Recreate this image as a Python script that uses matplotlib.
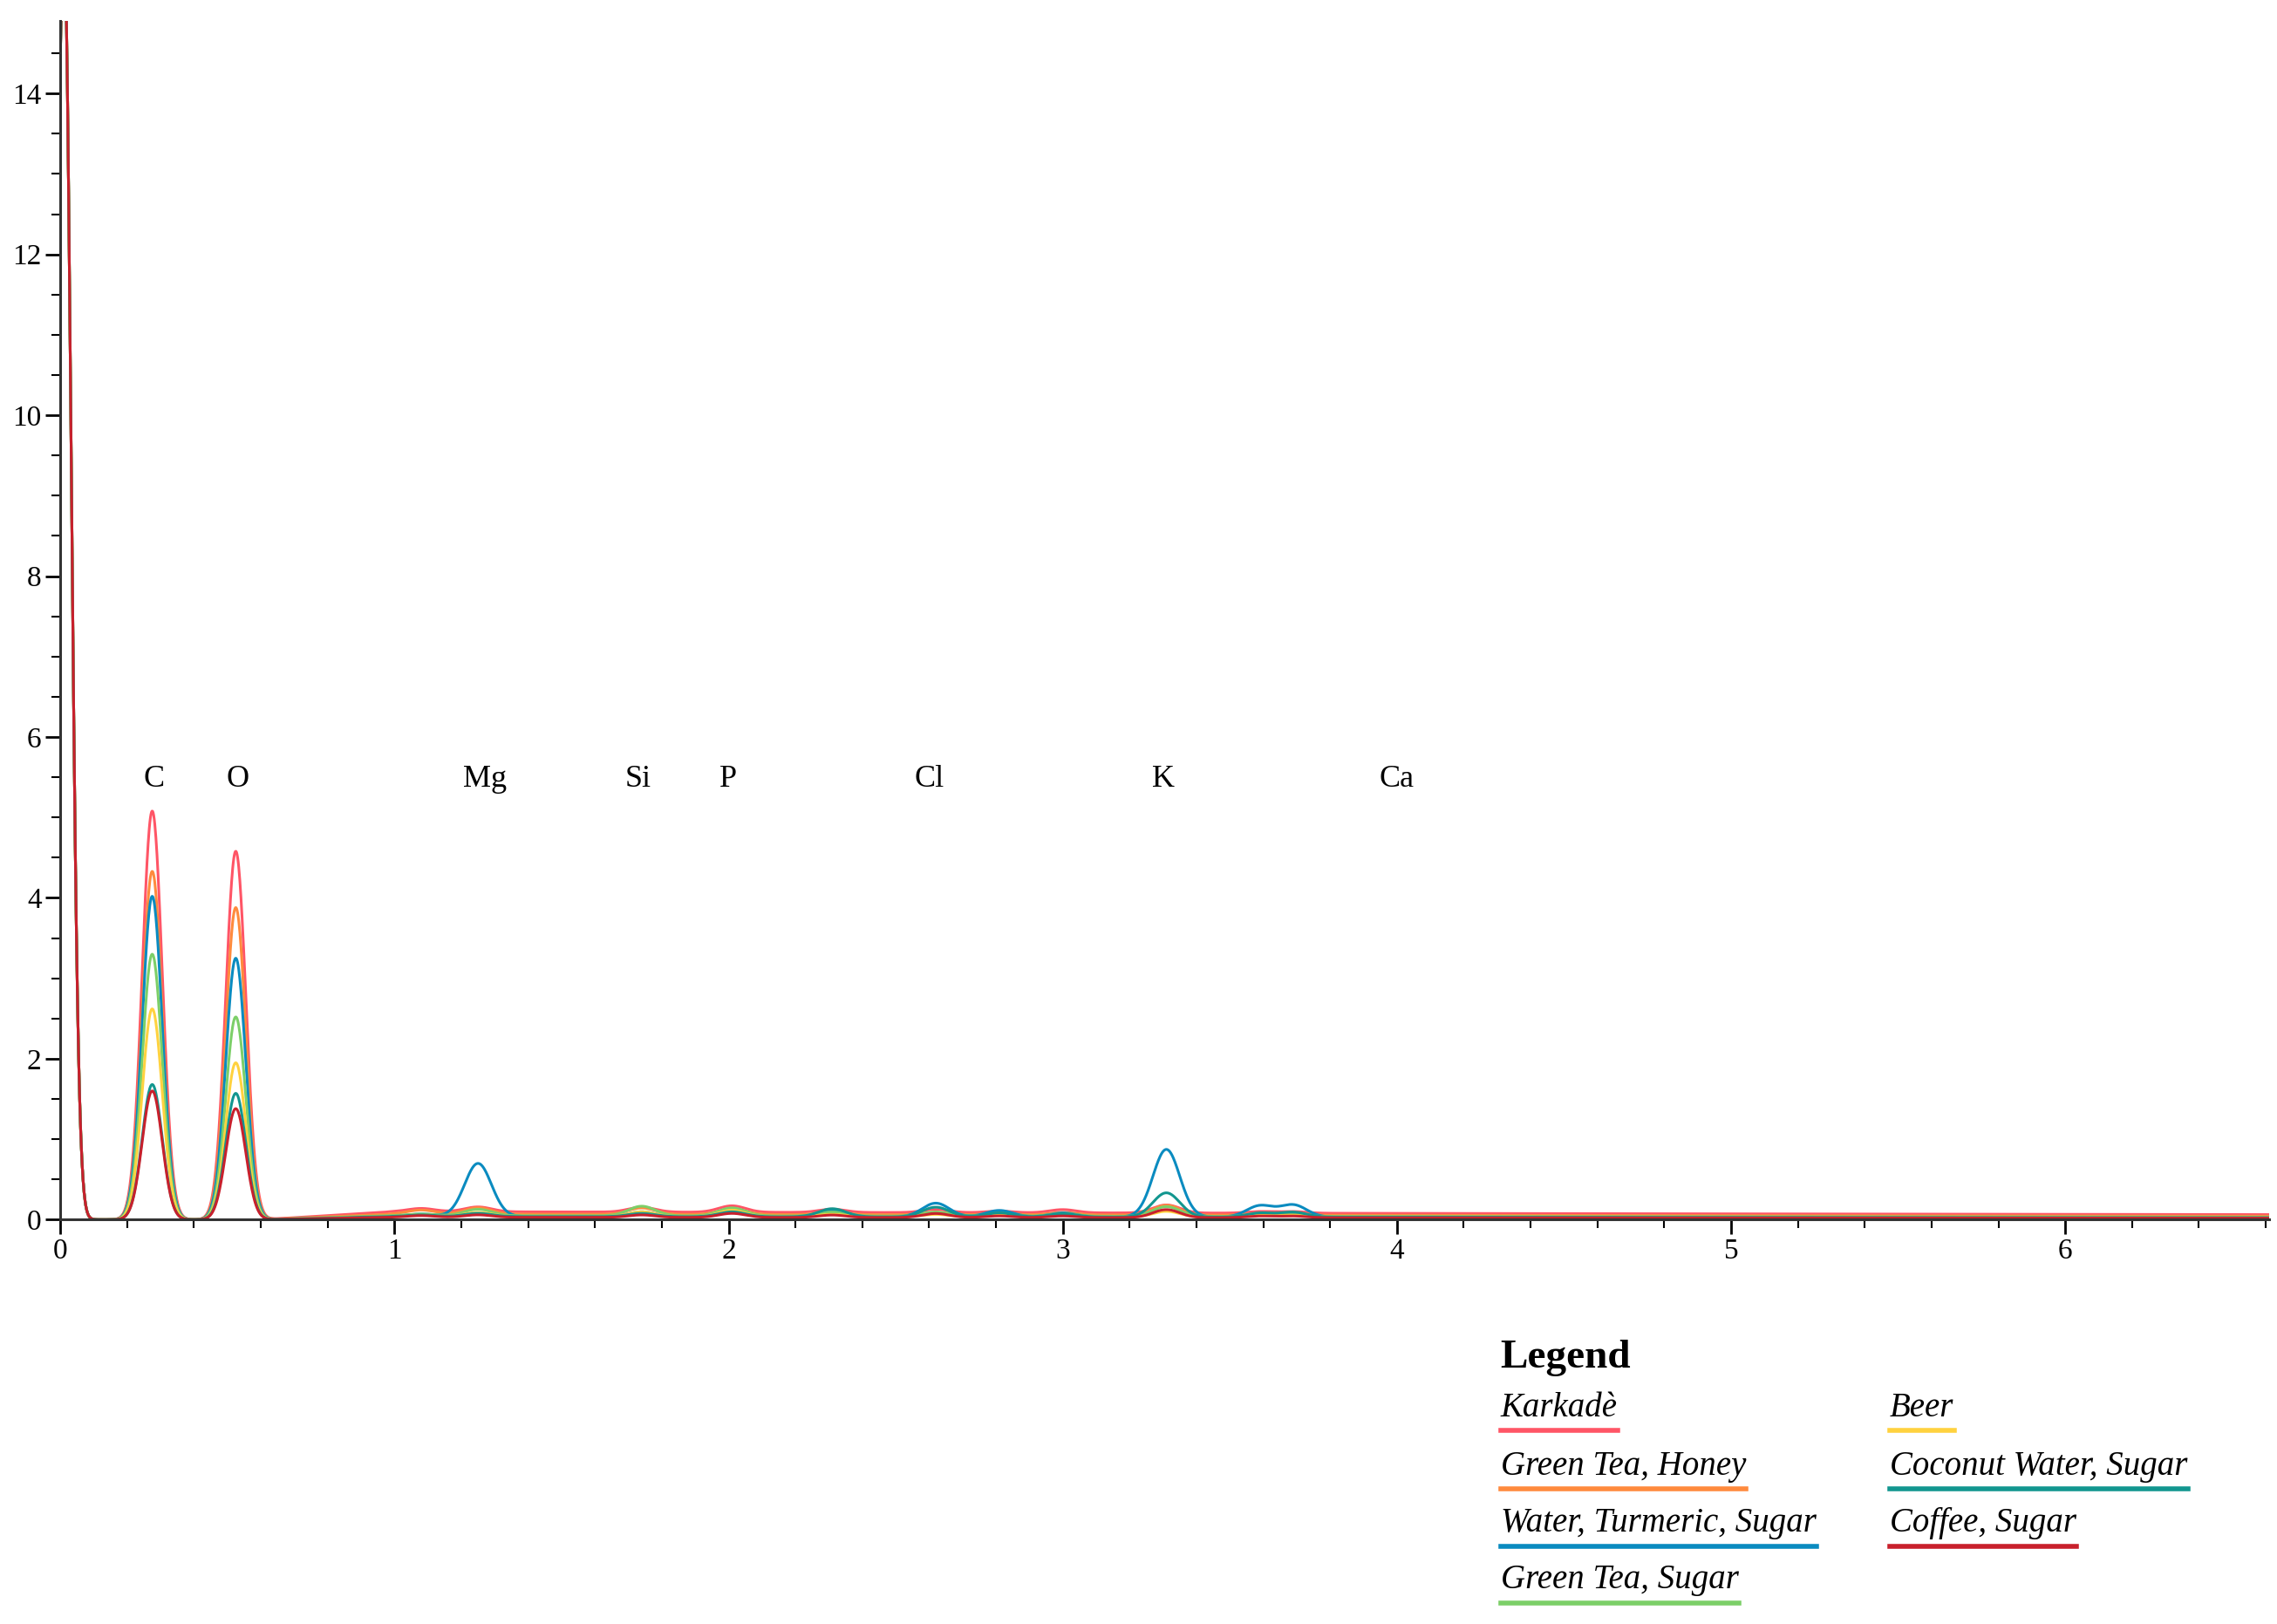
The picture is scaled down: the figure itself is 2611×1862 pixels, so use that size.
import numpy as np
import matplotlib
matplotlib.use("Agg")
import matplotlib.pyplot as plt
from matplotlib.lines import Line2D
from matplotlib.ticker import MultipleLocator

series = ["Karkadè", "Green Tea, Honey", "Water, Turmeric, Sugar", "Green Tea, Sugar",
          "Beer", "Coconut Water, Sugar", "Coffee, Sugar"]
colors = ["#ff5566", "#ff8a3d", "#0a8bc0", "#7ccf68", "#ffd23f", "#12968f", "#c8202c"]

# peak energies (keV) and per-series peak heights
peak_energy = [0.01, 0.275, 0.525, 1.08, 1.25, 1.74, 2.01, 2.31, 2.62, 2.81, 3.0, 3.31, 3.59, 3.69]
heights = {
    "Karkadè":                [16, 5.08, 4.58, 0.04, 0.06, 0.06, 0.08, 0.04, 0.04, 0.02, 0.04, 0.10, 0.02, 0.02],
    "Green Tea, Honey":       [16, 4.33, 3.88, 0.05, 0.08, 0.08, 0.07, 0.03, 0.03, 0.02, 0.03, 0.12, 0.02, 0.02],
    "Water, Turmeric, Sugar": [16, 4.02, 3.25, 0.03, 0.66, 0.06, 0.05, 0.08, 0.17, 0.08, 0.05, 0.84, 0.14, 0.15],
    "Green Tea, Sugar":       [16, 3.30, 2.52, 0.02, 0.08, 0.12, 0.10, 0.05, 0.05, 0.02, 0.03, 0.12, 0.02, 0.02],
    "Beer":                   [16, 2.62, 1.95, 0.02, 0.05, 0.06, 0.08, 0.03, 0.03, 0.02, 0.02, 0.07, 0.02, 0.02],
    "Coconut Water, Sugar":   [16, 1.68, 1.57, 0.02, 0.04, 0.04, 0.06, 0.10, 0.12, 0.05, 0.04, 0.30, 0.05, 0.06],
    "Coffee, Sugar":          [16, 1.60, 1.38, 0.02, 0.03, 0.03, 0.05, 0.03, 0.05, 0.02, 0.02, 0.10, 0.02, 0.02],
}
# background level (counts) for each series
background = {"Karkadè": 0.10, "Green Tea, Honey": 0.07, "Water, Turmeric, Sugar": 0.04,
              "Green Tea, Sugar": 0.05, "Beer": 0.04, "Coconut Water, Sugar": 0.04, "Coffee, Sugar": 0.03}

elements = ["C", "O", "Mg", "Si", "P", "Cl", "K", "Ca"]
element_x = [0.28, 0.53, 1.27, 1.73, 2.0, 2.6, 3.3, 4.0]

fig = plt.figure(figsize=(26.11, 18.62), dpi=100)
ax = fig.add_axes([0.0265, 0.249, 0.97, 0.738])
x = np.linspace(0, 6.61, 4000)
for name, c in zip(series, colors):
    y = np.zeros_like(x)
    for e, h in zip(peak_energy, heights[name]):
        w = 0.022 if e < 0.1 else (0.03 if e < 0.6 else 0.04)
        y += h * np.exp(-0.5 * ((x - e) / w) ** 2)
    bg = background[name] * np.clip((x - 0.6) / 0.4, 0, 1) * np.exp(-(x - 1.0).clip(0) / 12)
    y += bg
    ax.plot(x, y, color=c, lw=2.2)

ax.set_xlim(0, 6.61)
ax.set_ylim(0, 14.9)
for s in ["top", "right"]:
    ax.spines[s].set_visible(False)
for s in ["left", "bottom"]:
    ax.spines[s].set_linewidth(2.2)
    ax.spines[s].set_color("#333333")
ax.xaxis.set_major_locator(MultipleLocator(1))
ax.xaxis.set_minor_locator(MultipleLocator(0.2))
ax.yaxis.set_major_locator(MultipleLocator(2))
ax.yaxis.set_minor_locator(MultipleLocator(0.5))
ax.tick_params(which="major", length=12, width=2, labelsize=24)
ax.tick_params(which="minor", length=7, width=1.5)
for lab in ax.get_xticklabels() + ax.get_yticklabels():
    lab.set_fontfamily("Liberation Serif")

for el, ex in zip(elements, element_x):
    ax.text(ex, 5.3, el, ha="center", va="bottom", fontsize=26, family="Liberation Serif")

fig.text(0.659, 0.158, "Legend", fontsize=34, fontweight="bold", family="Liberation Serif", va="baseline")
rows = [0.128, 0.092, 0.057, 0.022]
cols = [0.659, 0.830]
positions = [(0, 0), (0, 1), (0, 2), (0, 3), (1, 0), (1, 1), (1, 2)]
fig.canvas.draw()
r = fig.canvas.get_renderer()
for name, c, (ci, ri) in zip(series, colors, positions):
    t = fig.text(cols[ci], rows[ri], name, fontsize=28, style="italic",
                 family="Liberation Serif", va="baseline")
    bb = t.get_window_extent(renderer=r).transformed(fig.transFigure.inverted())
    yline = rows[ri] - 0.009
    fig.add_artist(Line2D([bb.x0, bb.x1], [yline, yline], transform=fig.transFigure,
                          color=c, lw=4))

fig.savefig("out.png", dpi=100)
